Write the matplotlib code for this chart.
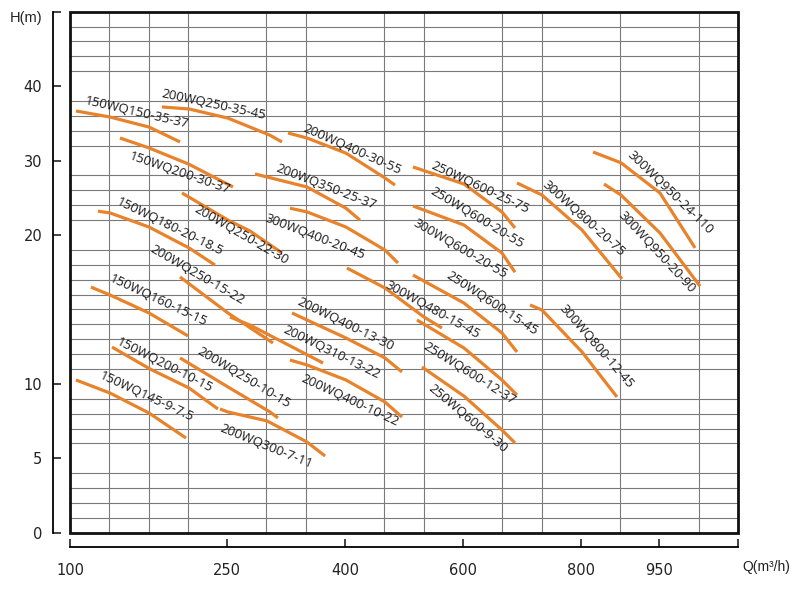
import numpy as np
import matplotlib.pyplot as plt
from matplotlib.ticker import FixedLocator
from matplotlib.patches import Rectangle

# axis breaks (the chart uses an uneven grid)
q_ticks = [100, 250, 400, 600, 800, 950, 1100]
q_cols = [0, 4, 7, 10, 13, 15, 17]
h_ticks = [0, 5, 10, 20, 30, 40, 50]
h_rows = [0, 5, 10, 20, 25, 30, 35]

# pump curves, Q (m3/h) and H (m)
curve_q = [
    [105.7, 138.2, 175.4, 205.0],                 # 150WQ150-35-37
    [187.8, 213.6, 251.0, 279.0, 304.5, 319.7],   # 200WQ250-35-45
    [147.7, 175.4, 213.6, 257.4],                 # 150WQ200-30-37
    [327.4, 351.6, 401.5, 467.7, 484.7],          # 200WQ400-30-55
    [285.4, 351.6, 401.5, 425.3],                 # 200WQ350-25-37
    [515.2, 601.7, 666.2, 688.3],                 # 250WQ600-25-75
    [515.2, 601.7, 666.2, 688.3],                 # 250WQ600-20-55
    [691.7, 734.1, 802.3, 878.6],                 # 300WQ800-20-75
    [823.3, 876.7, 951.1, 1018.0],                # 300WQ950-24-110
    [844.2, 876.7, 951.1, 1027.5],                # 300WQ950-20-90
    [126.7, 138.2, 175.4, 213.6, 238.4],          # 150WQ180-20-18.5
    [206.9, 251.0, 279.0, 319.7],                 # 200WQ250-22-30
    [329.9, 351.6, 401.5, 467.7, 489.7],          # 300WQ400-20-45
    [205.0, 251.0, 308.3],                        # 200WQ250-15-22
    [515.2, 601.7, 666.2, 691.7],                 # 250WQ600-15-45
    [403.2, 467.7, 533.9, 564.5],                 # 300WQ480-15-45
    [120.0, 138.2, 175.4, 212.6],                 # 150WQ160-15-15
    [713.8, 734.1, 802.3, 869.0],                 # 300WQ800-12-45
    [332.5, 351.6, 401.5, 467.7, 496.5],          # 200WQ400-13-30
    [253.6, 279.0, 372.0],                        # 200WQ310-13-22
    [522.0, 601.7, 666.2, 691.7],                 # 250WQ600-12-37
    [140.1, 176.3, 213.6, 241.2],                 # 150WQ200-10-15
    [205.0, 251.0, 304.5, 314.6],                 # 200WQ250-10-15
    [329.9, 351.6, 401.5, 467.7, 496.5],          # 200WQ400-10-22
    [105.7, 138.2, 175.4, 210.7],                 # 150WQ145-9-7.5
    [530.5, 601.7, 666.2, 688.3],                 # 250WQ600-9-30
    [243.1, 251.0, 300.7, 351.6, 374.6],          # 200WQ300-7-11
]
curve_h = [
    [36.66, 35.85, 34.5, 32.5],
    [37.2, 36.93, 35.7, 34.5, 33.4, 32.5],
    [33.03, 31.7, 29.5, 26.45],
    [33.7, 33.03, 31.0, 27.66, 26.7],
    [28.2, 26.45, 23.6, 22.0],
    [29.14, 26.85, 23.1, 20.94],
    [23.9, 21.34, 18.79, 17.5],
    [26.99, 25.37, 20.67, 17.05],
    [31.15, 29.7, 25.64, 19.13],
    [26.85, 25.37, 20.27, 16.56],
    [23.2, 22.96, 21.07, 19.13, 17.98],
    [25.64, 22.0, 20.54, 18.79],
    [23.6, 23.1, 21.07, 18.99, 18.12],
    [17.18, 14.76, 12.74],
    [17.31, 15.43, 13.42, 12.14],
    [17.78, 16.44, 14.49, 13.75],
    [16.5, 15.97, 14.76, 13.22],
    [15.3, 14.96, 12.14, 9.12],
    [14.76, 14.29, 13.08, 11.74, 10.8],
    [14.49, 13.95, 11.4],
    [14.29, 12.41, 10.26, 9.25],
    [12.47, 11.0, 9.72, 8.31],
    [11.74, 9.79, 8.11, 7.71],
    [11.6, 11.27, 10.26, 8.78, 7.77],
    [10.26, 9.38, 8.04, 6.36],
    [11.13, 9.18, 6.9, 6.03],
    [8.31, 8.11, 7.51, 6.09, 5.15],
]

label_text = [
    '150WQ150-35-37', '200WQ250-35-45', '150WQ200-30-37', '200WQ400-30-55',
    '200WQ350-25-37', '250WQ600-25-75', '250WQ600-20-55', '300WQ800-20-75',
    '300WQ950-24-110', '300WQ950-20-90', '150WQ180-20-18.5', '200WQ250-22-30',
    '300WQ400-20-45', '300WQ600-20-55', '200WQ250-15-22', '250WQ600-15-45',
    '300WQ480-15-45', '150WQ160-15-15', '300WQ800-12-45', '200WQ400-13-30',
    '200WQ310-13-22', '250WQ600-12-37', '150WQ200-10-15', '200WQ250-10-15',
    '200WQ400-10-22', '150WQ145-9-7.5', '250WQ600-9-30', '200WQ300-7-11',
]
label_q = [163.9, 237.4, 205.0, 411.2, 375.5, 628.8, 622.9, 806.1, 970.2, 945.4,
           195.4, 267.6, 361.2, 594.9, 221.7, 649.2, 548.5, 184.0, 830.0, 400.0,
           382.1, 610.2, 190.7, 271.4, 408.3, 173.2, 608.5, 299.7]
label_h = [36.4, 37.5, 28.33, 31.42, 26.49, 26.38, 22.28, 22.28, 25.64, 18.86,
           21.07, 20.0, 19.86, 19.06, 17.31, 15.43, 14.96, 15.57, 12.54, 14.02,
           12.1, 10.66, 11.25, 10.39, 8.91, 9.14, 7.64, 5.79]
label_rot = [-13, -12, -19, -24, -21, -25, -31, -42, -44, -47,
             -26, -30, -21, -30, -30, -33, -29, -25, -49, -26,
             -26, -32, -27, -31, -25, -25, -40, -22]


def q_fwd(q):
    return np.interp(q, q_ticks, q_cols)


def q_inv(c):
    return np.interp(c, q_cols, q_ticks)


def h_fwd(h):
    return np.interp(h, h_ticks, h_rows)


def h_inv(r):
    return np.interp(r, h_rows, h_ticks)


fig = plt.figure(figsize=(8, 5.9), dpi=100)
ax = fig.add_axes([70 / 800, 1 - 532.7 / 590, 668 / 800, 521 / 590])
ax.set_xscale('function', functions=(q_fwd, q_inv))
ax.set_yscale('function', functions=(h_fwd, h_inv))
ax.set_xlim(100, 1100)
ax.set_ylim(0, 50)

# grid
ax.xaxis.set_minor_locator(FixedLocator(q_inv(np.arange(18))))
ax.yaxis.set_minor_locator(FixedLocator(h_inv(np.arange(36))))
ax.grid(which='minor', color='#7a7a7a', lw=0.8)
ax.tick_params(which='minor', length=0)

ax.set_xticks(q_ticks, labels=['100', '250', '400', '600', '800', '950', ''])
ax.set_yticks(h_ticks, labels=['0', '5', '10', '20', '30', '40', ''])
ax.tick_params(which='major', direction='in', length=6, width=1.2,
               labelsize=10.5, colors='#222222')
ax.tick_params(axis='x', pad=12)
ax.tick_params(axis='y', pad=8)
for lab in ax.get_xticklabels() + ax.get_yticklabels():
    lab.set_family('Liberation Sans')

ax.spines['left'].set_position(('outward', 12))
ax.spines['bottom'].set_position(('outward', 10))
ax.spines['left'].set_linewidth(1.3)
ax.spines['bottom'].set_linewidth(1.3)
ax.spines['top'].set_visible(False)
ax.spines['right'].set_visible(False)
ax.add_patch(Rectangle((0, 0), 1, 1, transform=ax.transAxes, fill=False,
                       lw=2, ec='#111111', zorder=5, clip_on=False))

for qs, hs in zip(curve_q, curve_h):
    ax.plot(qs, hs, color='#e8832b', lw=2.3, solid_capstyle='butt',
            solid_joinstyle='round', zorder=3)

for t, q, h, r in zip(label_text, label_q, label_h, label_rot):
    ax.text(q, h, t, rotation=r, rotation_mode='anchor', ha='center',
            va='center', fontsize=9.5, family='Open Sans', color='#1a1a1a',
            zorder=4)

fig.text(26 / 800, 1 - 18 / 590, 'H(m)', ha='center', va='center',
         fontsize=10.5, family='Liberation Sans', color='#222222')
fig.text(766 / 800, 1 - 567 / 590, 'Q(m³/h)', ha='center', va='center',
         fontsize=10, family='Liberation Sans', color='#222222')

fig.savefig('out.png', dpi=100)
